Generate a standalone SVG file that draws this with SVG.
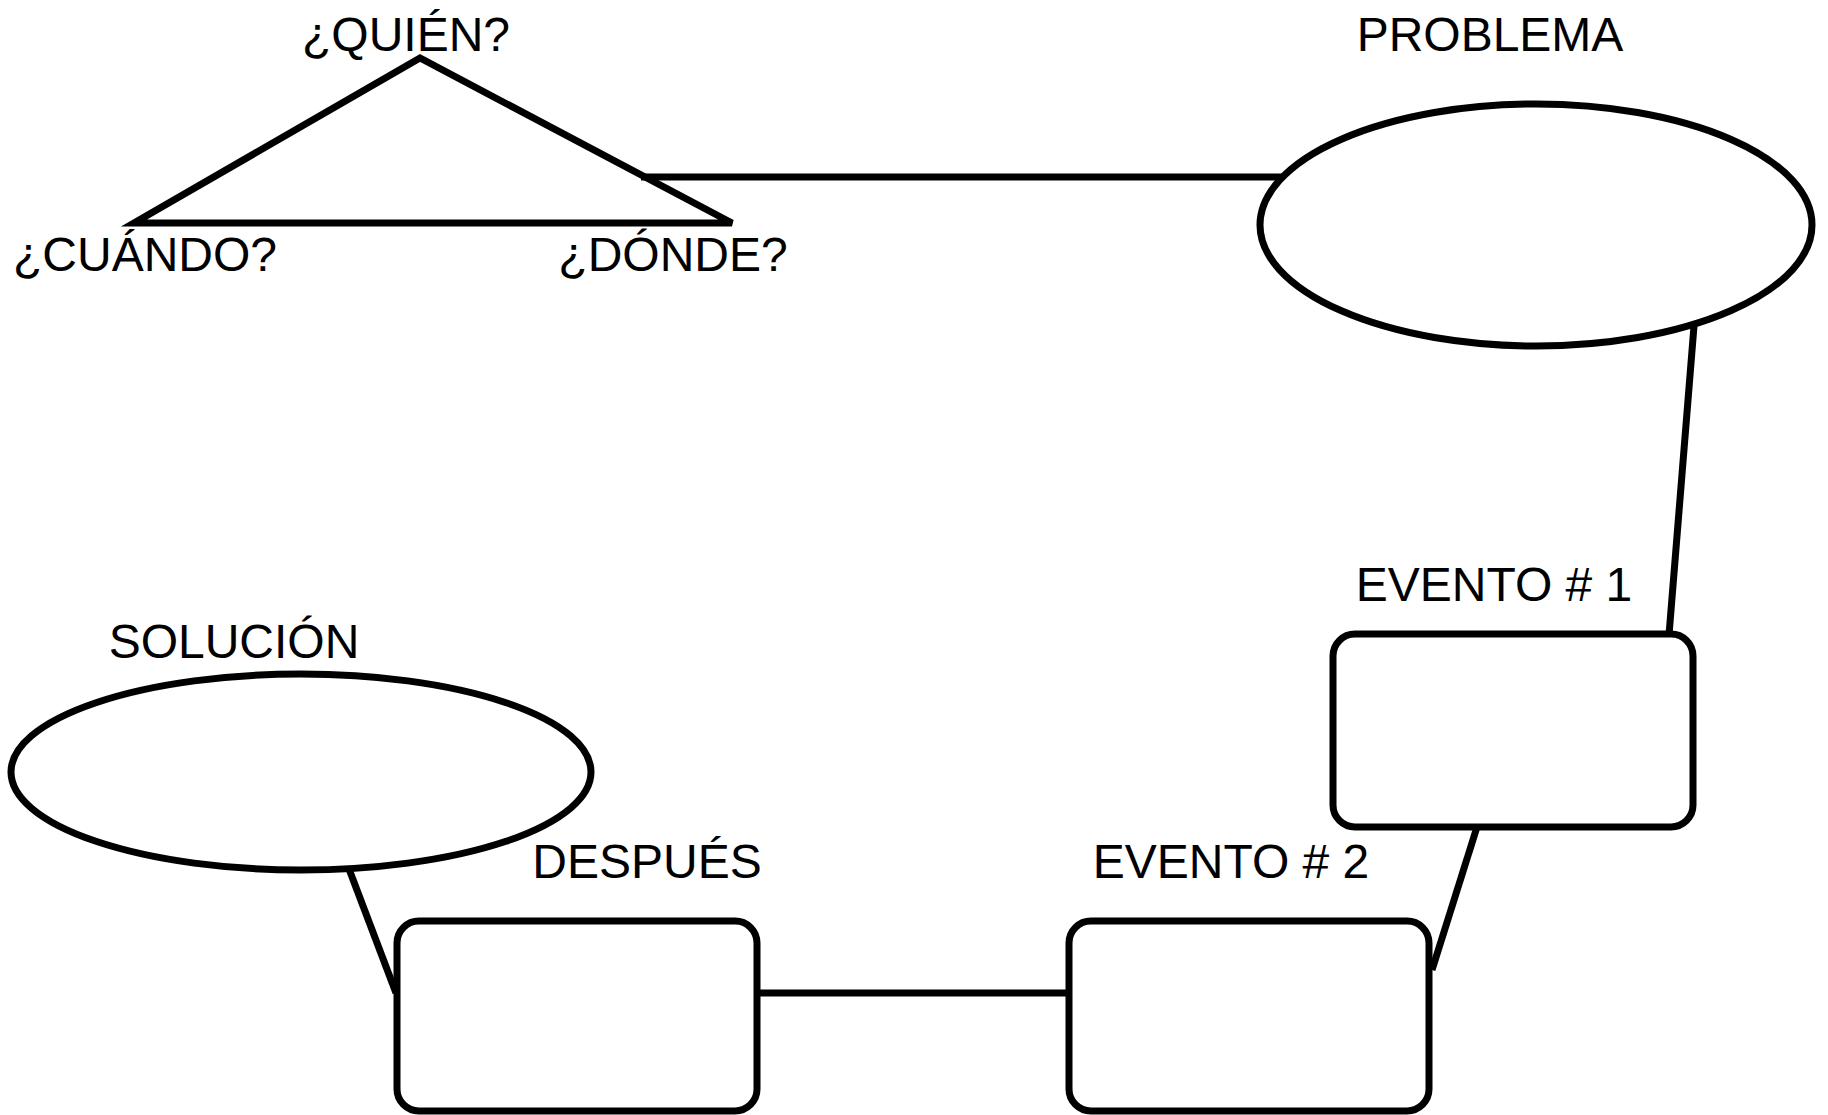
<svg xmlns="http://www.w3.org/2000/svg" width="1828" height="1115" viewBox="0 0 1828 1115">
<style>
.s{fill:none;stroke:#000;stroke-width:7}
.n{fill:#fff;stroke:#000;stroke-width:7}
.t{font-family:"Liberation Sans",Arial,sans-serif;font-size:48px;fill:#000;text-anchor:middle}
</style>
<rect width="1828" height="1115" fill="#fff"/>
<g id="connectors">
<line class="s" x1="641" y1="177" x2="1285" y2="177"/>
<line class="s" x1="1694" y1="326" x2="1669" y2="635"/>
<line class="s" x1="1477" y1="827" x2="1432" y2="970"/>
<line class="s" x1="758" y1="993" x2="1068" y2="993"/>
<line class="s" x1="349" y1="869" x2="396" y2="993"/>
</g>
<g id="triangle">
<polygon class="s" points="420,58 134,223 732,223"/>
<text class="t" x="406" y="51">¿QUIÉN?</text>
<text class="t" x="145" y="271">¿CUÁNDO?</text>
<text class="t" x="673" y="271">¿DÓNDE?</text>
</g>
<g id="problema">
<ellipse class="n" cx="1536" cy="225" rx="276" ry="121"/>
<text class="t" x="1490" y="51">PROBLEMA</text>
</g>
<g id="evento1">
<rect class="n" x="1333" y="634" width="360" height="193" rx="22"/>
<text class="t" x="1494" y="601">EVENTO # 1</text>
</g>
<g id="evento2">
<rect class="n" x="1069" y="921" width="360" height="190" rx="22"/>
<text class="t" x="1231" y="878">EVENTO # 2</text>
</g>
<g id="despues">
<rect class="n" x="397" y="921" width="360" height="190" rx="22"/>
<text class="t" x="647" y="878">DESPUÉS</text>
</g>
<g id="solucion">
<ellipse class="n" cx="301" cy="772" rx="290" ry="98"/>
<text class="t" x="234" y="658">SOLUCIÓN</text>
</g>
</svg>
